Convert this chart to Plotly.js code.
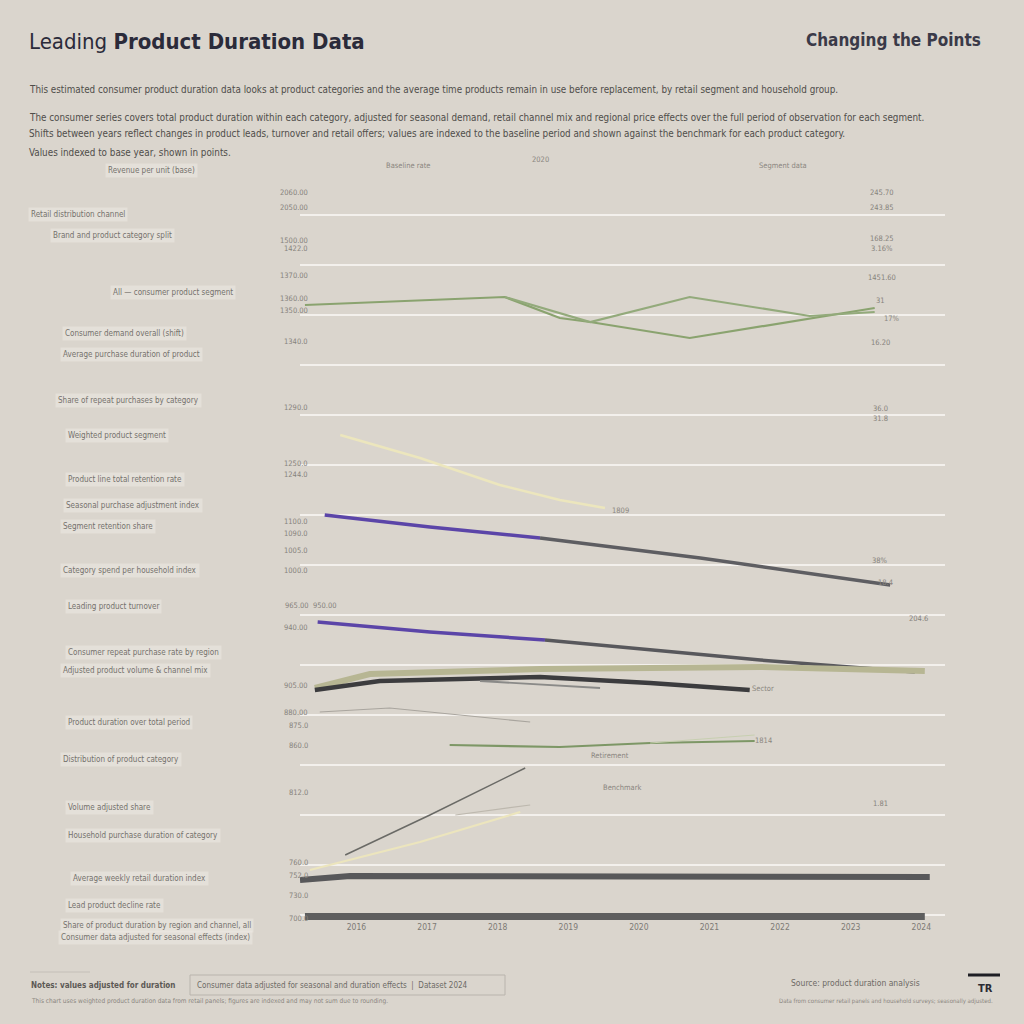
<!DOCTYPE html>
<html>
<head>
<meta charset="utf-8">
<script src="https://cdn.plot.ly/plotly-3.0.1.min.js"></script>
<style>
html,body{margin:0;padding:0;background:#dad5cd;}
#chart{width:1024px;height:1024px;}
</style>
</head>
<body>
<div id="chart"></div>
<script>
// ---------- DATA ----------
const xTickVals   = [2016, 2017, 2018, 2019, 2020, 2021, 2022, 2023, 2024];
const xTickLabels = ["2016", "2017", "2018", "2019", "2020", "2021", "2022", "2023", "2024"];

const greenAX = [2015.27, 2018.10, 2018.88, 2019.31, 2020.72, 2023.34];
const greenAY = [12.20, 12.36, 11.94, 11.86, 11.54, 12.14];
const greenBX = [2018.10, 2019.31, 2020.72, 2022.42, 2023.34];
const greenBY = [12.36, 11.86, 12.36, 11.98, 12.06];

const creamTopX = [2015.77, 2016.90, 2018.03, 2018.88, 2019.52];
const creamTopY = [9.60, 9.14, 8.60, 8.30, 8.14];

const purpleAX = [2015.55, 2017.04, 2018.60];
const purpleAY = [8.00, 7.76, 7.54];
const greyAX   = [2018.60, 2020.87, 2023.56];
const greyAY   = [7.54, 7.14, 6.60];

const purpleBX = [2015.45, 2017.04, 2018.67];
const purpleBY = [5.86, 5.66, 5.50];
const greyBX   = [2018.67, 2021.72, 2023.91];
const greyBY   = [5.50, 5.10, 4.86];

const khakiX = [2015.41, 2016.19, 2018.60, 2021.72, 2024.05];
const khakiY = [4.54, 4.82, 4.92, 4.96, 4.88];

const darkX = [2015.41, 2016.33, 2018.60, 2020.16, 2021.57];
const darkY = [4.50, 4.68, 4.76, 4.64, 4.50];

const branchX = [2017.75, 2019.45];
const branchY = [4.68, 4.54];

const thinX = [2015.48, 2016.47, 2018.46];
const thinY = [4.06, 4.14, 3.86];

const greenLowX = [2017.32, 2018.88, 2020.16, 2021.64];
const greenLowY = [3.40, 3.36, 3.44, 3.48];
const greenFaintX = [2020.16, 2021.64];
const greenFaintY = [3.44, 3.60];

const riseDarkX = [2015.84, 2017.04, 2018.39];
const riseDarkY = [1.20, 2.00, 2.94];
const riseCreamX = [2015.34, 2016.90, 2018.32];
const riseCreamY = [0.90, 1.46, 2.06];
const riseFaintX = [2017.40, 2018.46];
const riseFaintY = [2.00, 2.20];

const flatX = [2015.20, 2015.91, 2024.12];
const flatY = [0.70, 0.78, 0.76];

const baseX = [2015.27, 2024.05];
const baseY = [-0.04, -0.04];

const leftNotes = [
  "Revenue per unit (base)", "Retail distribution channel", "Brand and product category split",
  "All — consumer product segment", "Consumer demand overall (shift)", "Average purchase duration of product",
  "Share of repeat purchases by category", "Weighted product segment", "Product line total retention rate",
  "Seasonal purchase adjustment index", "Segment retention share", "Category spend per household index",
  "Leading product turnover", "Consumer repeat purchase rate by region", "Adjusted product volume & channel mix",
  "Product duration over total period", "Distribution of product category", "Volume adjusted share",
  "Household purchase duration of category", "Average weekly retail duration index", "Lead product decline rate",
  "Share of product duration by region and channel, all", "Consumer data adjusted for seasonal effects (index)"
];
const leftValues = [
  "2060.00", "2050.00", "1500.00", "1422.0", "1370.00", "1360.00", "1350.00", "1340.0",
  "1290.0", "1250.0", "1244.0", "1100.0", "1090.0", "1005.0", "1000.0", "965.00  950.00",
  "940.00", "905.00", "880.00", "875.0", "860.0", "812.0", "760.0", "752.0", "730.0", "700.0"
];
const rightValues = [
  "245.70", "243.85", "168.25", "3.16%", "1451.60", "31", "16.20", "36.0", "31.8",
  "38%", "204.6", "1.81"
];
const lineTags = ["1809", "Sector", "1814", "Retirement", "Benchmark", "Baseline rate", "2020", "Segment data", "17%", "18.4"];

// ---------- LAYOUT HELPERS ----------
const L = 300, R = 945, T = 170, B = 920;
const px = x => (x - L) / (R - L);
const py = y => (B - y) / (B - T);
const FONT = "Liberation Sans Narrow, DejaVu Sans Condensed, Arial Narrow, sans-serif";

function line(x, y, color, width, opacity) {
  return {x: x, y: y, type: "scatter", mode: "lines", hoverinfo: "skip",
          line: {color: color, width: width, shape: "linear"},
          opacity: opacity === undefined ? 1 : opacity, showlegend: false};
}

const traces = [
  line(greenAX, greenAY, "#8aa36f", 2.2),
  line(greenBX, greenBY, "#93aa7b", 2.2),
  line(creamTopX, creamTopY, "#ece6bd", 2.5),
  line(purpleAX, purpleAY, "#5b45a8", 3.5),
  line(greyAX, greyAY, "#5e5e62", 3.5),
  line(purpleBX, purpleBY, "#5b45a8", 3.5),
  line(greyBX, greyBY, "#58585c", 3.5),
  line(khakiX, khakiY, "#b7b693", 6),
  line(darkX, darkY, "#3c3c3e", 4.5),
  line(branchX, branchY, "#8a8a88", 1.8),
  line(thinX, thinY, "#a9a59e", 1.2),
  line(greenLowX, greenLowY, "#7d9766", 2.2),
  line(greenFaintX, greenFaintY, "#c7cfb0", 1.2),
  line(riseDarkX, riseDarkY, "#6a6a66", 1.5),
  line(riseCreamX, riseCreamY, "#ece5bd", 2.2),
  line(riseFaintX, riseFaintY, "#bdb8ae", 1.2),
  line(flatX, flatY, "#58585a", 6),
  line(baseX, baseY, "#5e5e5e", 8)
];

const ann = [];
function txt(text, x, y, opt) {
  opt = opt || {};
  ann.push(Object.assign({
    text: text, xref: "paper", yref: "paper", x: px(x), y: py(y),
    xanchor: opt.xa || "left", yanchor: "middle", showarrow: false,
    font: {family: FONT, size: opt.size || 9, color: opt.color || "#7a7772"},
    bgcolor: opt.bg || "rgba(0,0,0,0)", borderpad: opt.pad || 0
  }, opt.extra || {}));
}

// Title block
txt("Leading <b>Product Duration Data</b>", 28, 42, {size: 22, color: "#2b2b3a"});
txt("<b>Changing the Points</b>", 805, 40, {size: 17, color: "#3a3a48"});
txt("This estimated consumer product duration data looks at product categories and the average time products remain in use before replacement, by retail segment and household group.", 28, 90, {size: 9.8, color: "#4f4d4a"});
txt("The consumer series covers total product duration within each category, adjusted for seasonal demand, retail channel mix and regional price effects over the full period of observation for each segment.", 28, 117, {size: 9.8, color: "#4f4d4a"});
txt("Shifts between years reflect changes in product leads, turnover and retail offers; values are indexed to the baseline period and shown against the benchmark for each product category.", 28, 133, {size: 9.8, color: "#4f4d4a"});
txt("Values indexed to base year, shown in points.", 28, 152, {size: 9.8, color: "#4f4d4a"});

// Left notes
const noteY = [170, 214, 236, 292, 333, 354, 400, 435, 479, 506, 526, 570, 606, 652, 670, 722, 759, 807, 835, 878, 905, 925, 937];
const noteX = [105, 28, 50, 110, 62, 60, 55, 65, 65, 63, 60, 60, 65, 65, 60, 65, 60, 65, 65, 70, 65, 60, 58];
leftNotes.forEach((t, i) => txt(t, noteX[i], noteY[i], {size: 8, color: "#74716c", bg: "rgba(236,233,228,0.55)", pad: 2}));

// Left values (axis-side)
const lvY = [193, 208, 240, 248, 275, 298, 310, 341, 407, 463, 475, 521, 533, 550, 570, 605, 627, 685, 712, 725, 745, 792, 862, 875, 895, 918];
leftValues.forEach((t, i) => txt(t, i === 15 ? 338 : 309, lvY[i], {xa: "right", size: 7.5, color: "#86827c"}));

// Right values
const rvY = [193, 208, 238, 248, 277, 300, 342, 408, 418, 560, 618, 803];
const rvX = [882, 882, 882, 882, 882, 880, 880, 880, 880, 880, 918, 880];
rightValues.forEach((t, i) => txt(t, rvX[i], rvY[i], {xa: "center", size: 7.5, color: "#86827c"}));

// Tags along lines
const tagPos = [[620, 510], [763, 688], [763, 740], [610, 755], [622, 787], [408, 165], [540, 160], [783, 166], [892, 318], [885, 582]];
lineTags.forEach((t, i) => txt(t, tagPos[i][0], tagPos[i][1], {xa: "center", size: 7.5, color: "#8a8680"}));

// Footer
txt("<b>Notes: values adjusted for duration</b>", 30, 985, {size: 8, color: "#5c5955"});
txt("Consumer data adjusted for seasonal and duration effects &nbsp;|&nbsp; Dataset 2024", 196, 985, {size: 8, color: "#6d6a65"});
txt("This chart uses weighted product duration data from retail panels; figures are indexed and may not sum due to rounding.", 30, 1001, {size: 6.5, color: "#8a8680"});
txt("Source: product duration analysis", 790, 983, {size: 8.5, color: "#6d6a65"});
txt("Data from consumer retail panels and household surveys; seasonally adjusted.", 778, 1001, {size: 6, color: "#8a8680"});
txt("<b>TR</b>", 985, 988, {xa: "center", size: 11, color: "#2b2b33"});

const shapes = [
  {type: "rect", xref: "paper", yref: "paper", x0: px(190), x1: px(505), y0: py(995), y1: py(975),
   line: {color: "#b9b4ad", width: 1}, fillcolor: "rgba(0,0,0,0)"},
  {type: "line", xref: "paper", yref: "paper", x0: px(30), x1: px(90), y0: py(972), y1: py(972),
   line: {color: "#c4bfb8", width: 1}},
  {type: "line", xref: "paper", yref: "paper", x0: px(968), x1: px(1000), y0: py(975), y1: py(975),
   line: {color: "#1e1e24", width: 3}}
];

const layout = {
  width: 1024, height: 1024,
  paper_bgcolor: "#dad5cd", plot_bgcolor: "#dad5cd",
  margin: {l: L, r: 1024 - R, t: T, b: 1024 - B},
  showlegend: false,
  xaxis: {range: [2015.2, 2024.336], tickvals: xTickVals, ticktext: xTickLabels,
          showgrid: false, zeroline: false, showline: false, ticks: "",
          tickfont: {family: FONT, size: 8.5, color: "#7d7a75"}},
  yaxis: {range: [-0.1, 14.9], dtick: 1, showticklabels: false, zeroline: false, showline: false,
          gridcolor: "rgba(247,245,241,0.85)", gridwidth: 1.3},
  annotations: ann,
  shapes: shapes,
  font: {family: FONT}
};

Plotly.newPlot("chart", traces, layout, {staticPlot: true, displayModeBar: false});
</script>
</body>
</html>
